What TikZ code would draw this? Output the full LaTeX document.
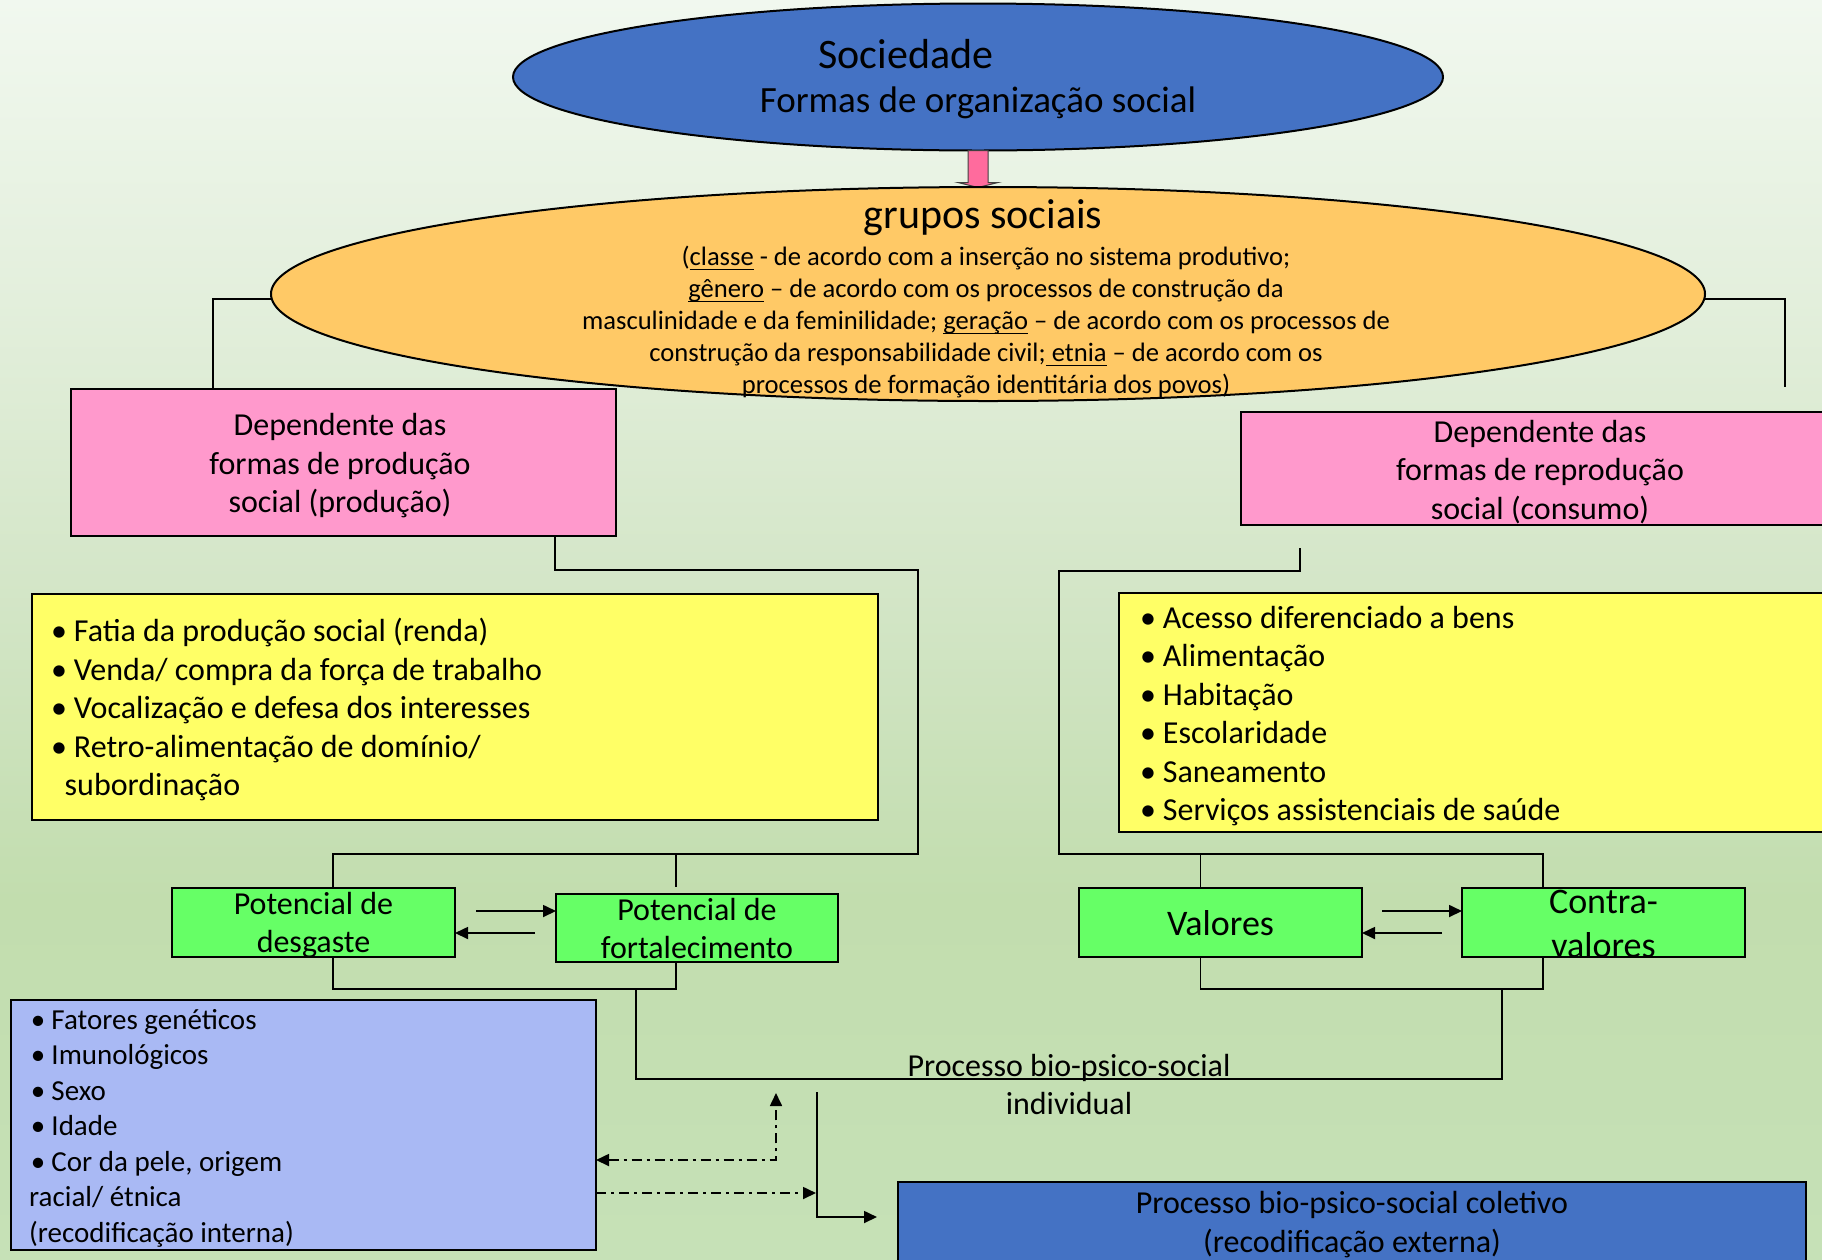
\documentclass[tikz,border=0pt]{standalone}
\usepackage{fontspec}
\setmainfont{Carlito}
\usetikzlibrary{shapes.geometric,arrows.meta,calc}

\definecolor{socblue}{HTML}{4472C4}
\definecolor{grporange}{HTML}{FFC966}
\definecolor{boxpink}{HTML}{FF99CC}
\definecolor{barpink}{HTML}{FF6B9D}
\definecolor{boxyellow}{HTML}{FFFF66}
\definecolor{boxgreen}{HTML}{66FF66}
\definecolor{boxlilac}{HTML}{A9B9F4}
\definecolor{bgA}{HTML}{F1F8EF}
\definecolor{bgB}{HTML}{E3EFDC}
\definecolor{bgC}{HTML}{D4E6C8}
\definecolor{bgD}{HTML}{C2DDAE}
\definecolor{bgE}{HTML}{C6E1B7}

% font size shortcut
\newcommand\fs[2]{\fontsize{#1}{#2}\selectfont}
% underline with a fixed offset below the baseline
\newcommand\ulx[1]{\setbox0\hbox{#1}\rlap{\rule[-5pt]{\wd0}{1.8pt}}\box0\relax}
% bullet followed by a fixed indent
\newcommand\bul{\makebox[0.71em][l]{•}}

\begin{document}
\begin{tikzpicture}[x=1pt,y=-1pt,
  boxline/.style={draw=black, line width=2pt, inner sep=0pt, outer sep=0pt},
  conn/.style={draw=black, line width=1.7pt},
  endtip/.style={-{Triangle[length=13pt,width=12pt]}},
  bothtips/.style={{Triangle[length=13pt,width=12pt]}-{Triangle[length=13pt,width=12pt]}},
  dashdot/.style={dash pattern=on 10pt off 5pt on 3pt off 5pt},
  txt/.style={inner sep=0pt, align=center},
  listtxt/.style={inner sep=0pt, align=left, anchor=west},
  pinkbar/.style={fill=barpink, draw=black!75, line width=1pt},
]
\useasboundingbox (0,0) rectangle (1822,1259);
\clip (0,0) rectangle (1822,1259);

% background
\fill[top color=bgA, bottom color=bgB] (0,0) rectangle (1822,300);
\fill[top color=bgB, bottom color=bgC] (0,299.5) rectangle (1822,580);
\fill[top color=bgC, bottom color=bgD] (0,579.5) rectangle (1822,900);
\fill[top color=bgD, bottom color=bgE] (0,899.5) rectangle (1822,1259);

% society
\node[ellipse, boxline, fill=socblue, minimum width=930pt, minimum height=147pt] (soc) at (978,77) {};
\node[txt, font=\fs{42}{50}, anchor=base] (soc-a) at (906,68) {Sociedade};
\node[txt, font=\fs{37}{44}, anchor=base] (soc-b) at (978,112) {Formas de organização social};

% block arrow down to the social groups
\draw[pinkbar] ([xshift=-10pt]soc.south) -- ++(0,32) -- ++(-10,0) -- ++(20,5) -- ++(20,-5) -- ++(-10,0) -- ++(0,-32) -- cycle;

% social groups
\node[ellipse, boxline, fill=grporange, minimum width=1434pt, minimum height=214pt] (grp) at (988,294) {};
\node[txt, font=\fs{42}{50}, anchor=base] (grp-t) at (983,228) {grupos sociais};
\node[txt, font=\fs{26.6}{32}] (grp-b) at (986,322) {(\ulx{classe} - de acordo com a inserção no sistema produtivo;\\
\ulx{gênero} – de acordo com os processos de construção da\\
masculinidade e da feminilidade; \ulx{geração} – de acordo com os processos de\\
construção da responsabilidade civil;\ulx{ etnia} – de acordo com os\\
processos de formação identitária dos povos)};

% production / consumption
\node[boxline, fill=boxpink, minimum width=545pt, minimum height=147pt] (prod) at (343.5,462.5) {};
\node[txt, font=\fs{32}{38.5}] (prod-t) at (340,466) {Dependente das\\formas de produção\\social (produção)};
\node[boxline, fill=boxpink, minimum width=598pt, minimum height=113pt] (cons) at (1540,468.5) {};
\node[txt, font=\fs{32}{38.5}] (cons-t) at (1540,472) {Dependente das\\formas de reprodução\\social (consumo)};

% lists
\node[boxline, fill=boxyellow, minimum width=846pt, minimum height=226pt] (yl) at (454.5,706.5) {};
\node[listtxt, font=\fs{32}{38.5}] (yl-t) at (51,709.5) {\bul Fatia da produção social (renda)\\\bul Venda/ compra da força de trabalho\\\bul Vocalização e defesa dos interesses\\\bul Retro-alimentação de domínio/\\\hspace*{13.5pt}subordinação};
\node[boxline, fill=boxyellow, minimum width=721pt, minimum height=239pt] (yr) at (1479.5,712.5) {};
\node[listtxt, font=\fs{32}{38.4}] (yr-t) at (1140,716) {\bul Acesso diferenciado a bens\\\bul Alimentação\\\bul Habitação\\\bul Escolaridade\\\bul Saneamento\\\bul Serviços assistenciais de saúde};

% potentials and values
\node[boxline, fill=boxgreen, minimum width=283pt, minimum height=69pt] (gd) at (313.5,922.5) {};
\node[txt, font=\fs{32}{38}] (gd-t) at (313.5,925.5) {Potencial de\\desgaste};
\node[boxline, fill=boxgreen, minimum width=282pt, minimum height=68pt] (gf) at (697,928) {};
\node[txt, font=\fs{32}{38}] (gf-t) at (697,928) {Potencial de\\fortalecimento};
\node[boxline, fill=boxgreen, minimum width=283pt, minimum height=69pt] (gv) at (1220.5,922.5) {};
\node[txt, font=\fs{36}{43}] (gv-t) at (1220.5,923) {Valores};
\node[boxline, fill=boxgreen, minimum width=283pt, minimum height=69pt] (gc) at (1603.5,922.5) {};
\node[txt, font=\fs{36}{44}] (gc-t) at (1603.5,924) {Contra-\\valores};

% biological factors
\node[boxline, fill=boxlilac, minimum width=585pt, minimum height=250pt] (bio) at (303.5,1125) {};
\node[listtxt, font=\fs{29}{35.5}] (bio-t) at (29,1128) {\hspace*{1.7pt}\bul Fatores genéticos\\\hspace*{1.7pt}\bul Imunológicos\\\hspace*{1.7pt}\bul Sexo\\\hspace*{1.7pt}\bul Idade\\\hspace*{1.7pt}\bul Cor da pele, origem\\racial/ étnica\\(recodificação interna)};

% collective process
\node[boxline, fill=socblue, minimum width=908pt, minimum height=200pt] (coll) at (1352,1282) {};
\node[txt, font=\fs{32}{39.5}] (coll-t) at (1352,1224.5) {Processo bio-psico-social coletivo\\(recodificação externa)};

% individual process label
\node[txt, font=\fs{32}{38}] (ind-t) at (1069,1084) {Processo bio-psico-social\\individual};

% free ends of connectors
\coordinate (rp) at (1785,387);
\coordinate (rs) at ([xshift=-240pt,yshift=-23pt]cons.south);
\coordinate (fb) at (676,854);
\coordinate (vb) at (1200.5,854);
\coordinate (ibl) at (636,989);
\coordinate (ibr) at (1502,989);
\coordinate (a1) at (476,911);
\coordinate (a2) at (535,933);
\coordinate (a3) at (1382,911);
\coordinate (a4) at (1442,933);
\coordinate (dn) at (817,1092);
\coordinate (dne) at (877,1217);
\coordinate (up) at (776,1093);
\coordinate (dd) at (816,1193);

% groups to both branches
\draw[conn] ([yshift=-5pt]grp.west) -| ([xshift=-130.5pt]prod.north);
\draw[conn] ([yshift=-5pt]grp.east) -| (rp);

% production branch
\draw[conn] ([xshift=211.5pt]prod.south) -- ++(0,34) -| (918,854) -| ([xshift=19.5pt]gd.north);
\draw[conn] (fb) -- ([xshift=-21pt,yshift=7pt]gf.north);
\draw[conn] ([xshift=19.5pt]gd.south) |- (676,989) -- ([xshift=-21pt]gf.south);
\draw[conn, endtip] (a1) -- (a1 -| gf.west);
\draw[conn, endtip] (a2) -- (a2 -| gd.east);

% consumption branch
\draw[conn] (rs) -- ++(0,23) -| (1059,854) -| ([xshift=-60.5pt]gc.north);
\draw[conn] (vb) -- ([xshift=-20pt]gv.north);
\draw[conn] ([xshift=-20pt]gv.south) |- (1543,989) -- ([xshift=-60.5pt]gc.south);
\draw[conn, endtip] (a3) -- (a3 -| gc.west);
\draw[conn, endtip] (a4) -- (a4 -| gv.east);

% individual process bracket
\draw[conn] (ibl) |- (1502,1079) -- (ibr);

% towards the collective process
\draw[conn, endtip] (dn) |- (dne);

% recoding between biological factors and the individual process
\draw[conn, dashdot, bothtips] (bio.east |- 0,1160) -| (up);
\draw[conn, dashdot, endtip] (bio.east |- 0,1193) -- (dd);
\end{tikzpicture}
\end{document}
